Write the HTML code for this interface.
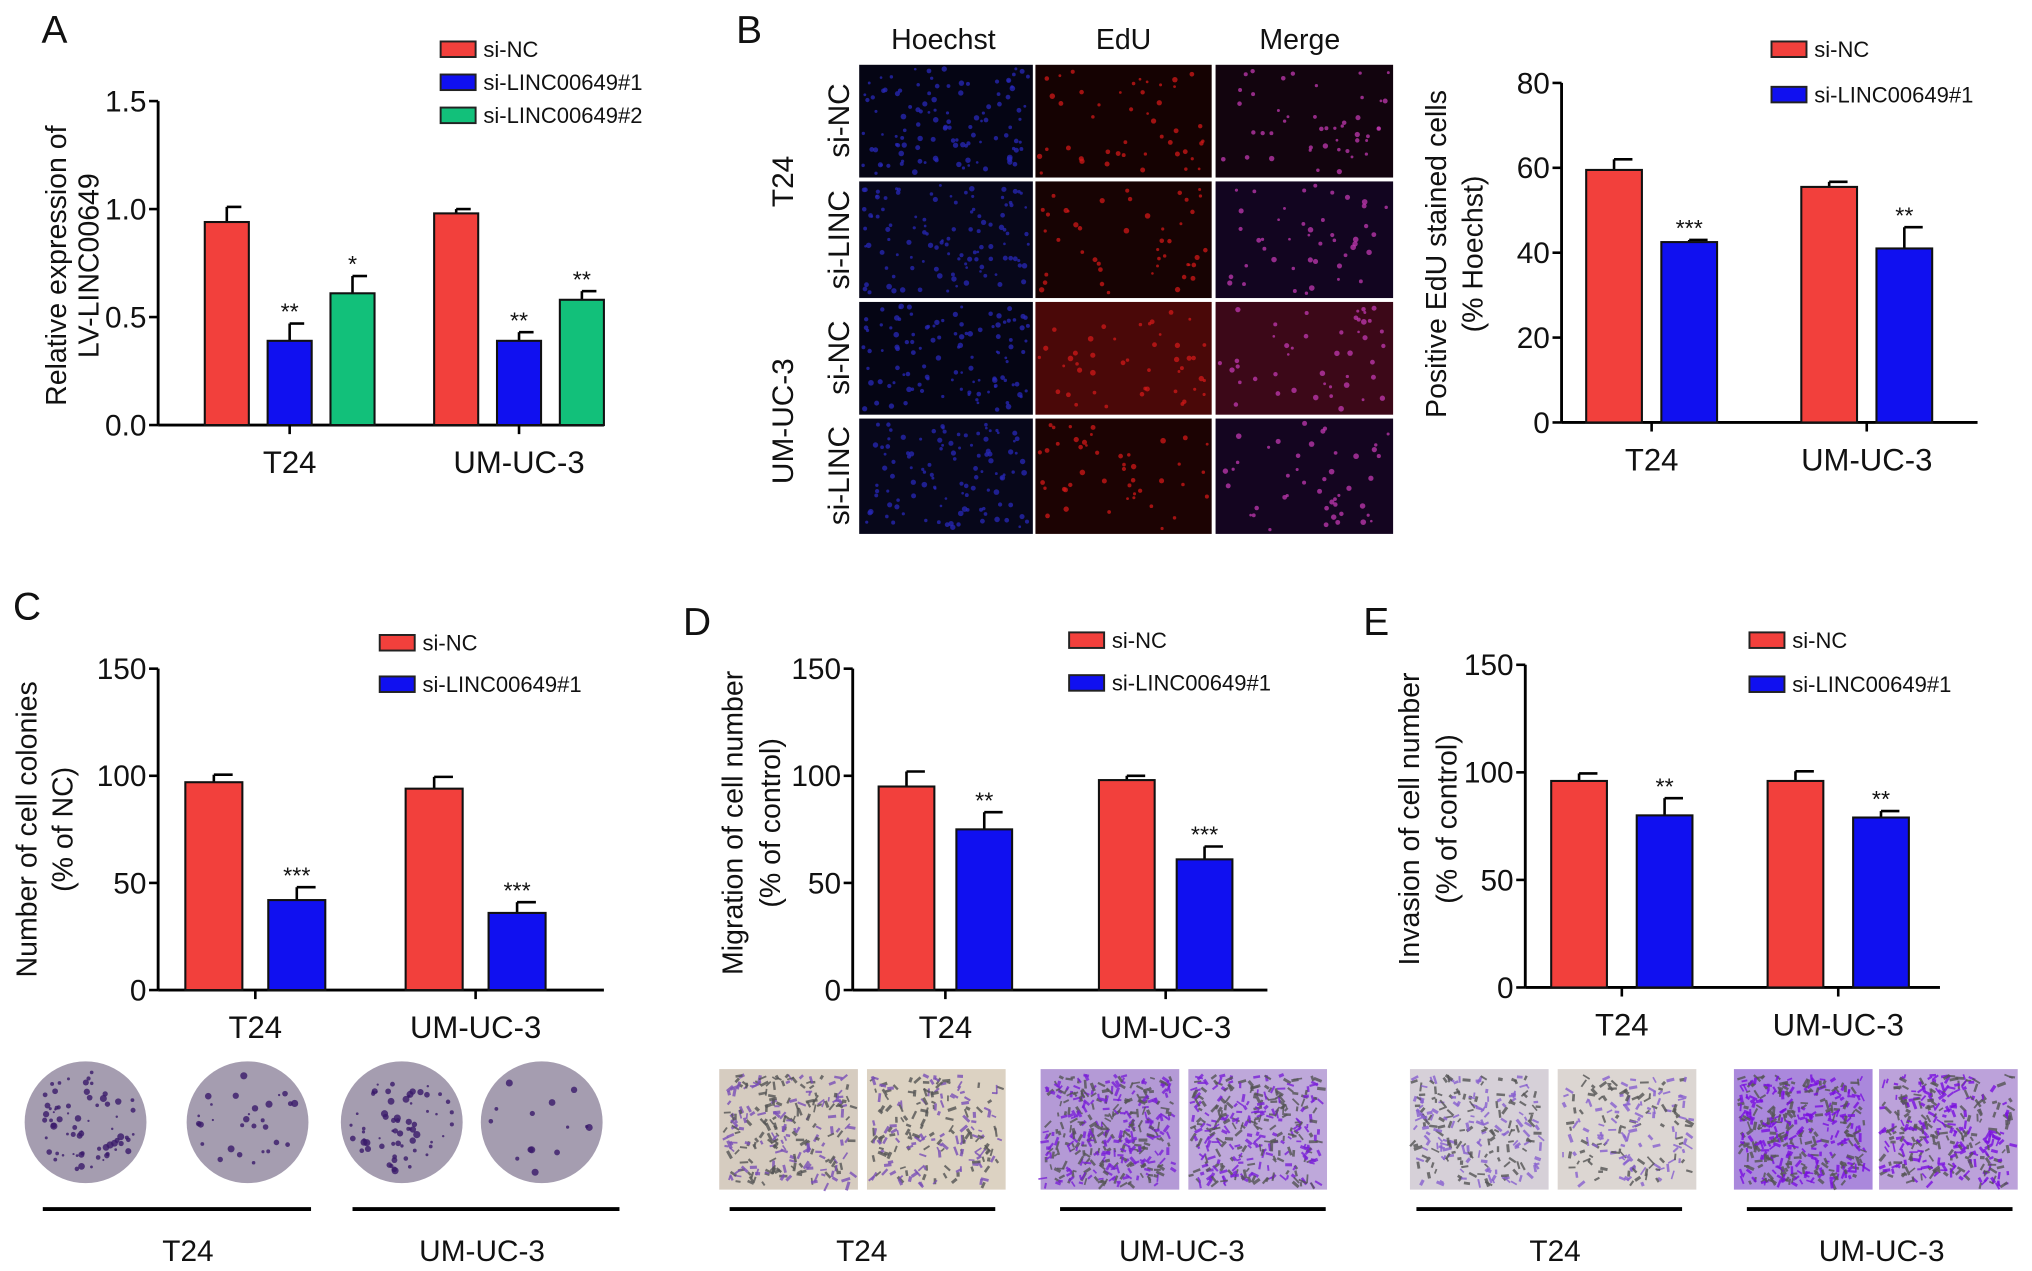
<!DOCTYPE html>
<html><head><meta charset="utf-8"><style>
html,body{margin:0;padding:0;background:#fff;}
svg{display:block;}
text{font-family:"Liberation Sans",Arial,sans-serif;fill:#111;}
</style></head><body>
<svg id="fig" width="2032" height="1271" viewBox="0 0 1568 980.8" xmlns="http://www.w3.org/2000/svg">
<g id="static"></g>
</svg>
<script>
// ---- Chart data ----
const categories = ["T24", "UM-UC-3"];
const aNames = ["si-NC", "si-LINC00649#1", "si-LINC00649#2"];
const aValues = [[0.94, 0.98], [0.39, 0.39], [0.61, 0.58]];
const aErrors = [[0.07, 0.02], [0.08, 0.04], [0.08, 0.04]];
const aStars = [["", ""], ["**", "**"], ["*", "**"]];
const aTicks = ["0.0", "0.5", "1.0", "1.5"];
const twoNames = ["si-NC", "si-LINC00649#1"];
const bValues = [[59.5, 55.5], [42.5, 41]];
const bErrors = [[2.5, 1.2], [0.5, 5]];
const bStars = [["", ""], ["***", "**"]];
const bTicks = ["0", "20", "40", "60", "80"];
const cValues = [[97, 94], [42, 36]];
const cErrors = [[3.5, 5.5], [6, 5]];
const cStars = [["", ""], ["***", "***"]];
const pctTicks = ["0", "50", "100", "150"];
const dValues = [[95, 98], [75, 61]];
const dErrors = [[7, 2], [8, 6]];
const dStars = [["", ""], ["**", "***"]];
const eValues = [[96, 96], [80, 79]];
const eErrors = [[3.5, 4.5], [8, 3]];
const eStars = [["", ""], ["**", "**"]];

const NS = "http://www.w3.org/2000/svg";
const root = document.getElementById('static');
function mk(tag, attrs, parent, txt) {
  const e = document.createElementNS(NS, tag);
  for (const k in attrs) e.setAttribute(k, attrs[k]);
  if (txt !== undefined) e.textContent = txt;
  (parent || root).appendChild(e);
  return e;
}
const COLORS = ["#f2403c", "#1010f0", "#12c07a"];

function chart(cfg) {
  const g = mk('g', {});
  
  
  const tickVals = cfg.ticks.map(Number);
  const ymax = tickVals[tickVals.length - 1];
  const y = v => cfg.y0 - (v / ymax) * (cfg.y0 - cfg.yTop);
  const ax = mk('line', {x1: cfg.ax, y1: cfg.yTop, x2: cfg.ax, y2: cfg.y0, stroke: '#000', 'stroke-width': 2.2}, g);
  
  
  cfg.ticks.forEach((t, i) => {
    const yy = y(tickVals[i]);
    mk('line', {x1: cfg.ax - 7, y1: yy, x2: cfg.ax, y2: yy, stroke: '#000', 'stroke-width': 2}, g);
    const tl = mk('text', {x: cfg.ax - 9, y: yy + 8, 'text-anchor': 'end', 'font-size': 23}, g, t);
    
    
  });
  const xa = mk('line', {x1: cfg.ax, y1: cfg.y0, x2: cfg.xEnd, y2: cfg.y0, stroke: '#000', 'stroke-width': 2.2}, g);
  
  
  const nS = cfg.values.length;
  categories.forEach((c, ci) => {
    const gs = cfg.groupStart[ci];
    for (let s = 0; s < nS; s++) {
      const x0 = gs + s * cfg.step;
      const v = cfg.values[s][ci], e = cfg.errors[s][ci];
      const cx = x0 + cfg.bw / 2;
      mk('line', {x1: cx, y1: y(v), x2: cx, y2: y(v + e), stroke: '#000', 'stroke-width': 2}, g);
      mk('line', {x1: cx, y1: y(v + e), x2: cx + cfg.bw * 0.33, y2: y(v + e), stroke: '#000', 'stroke-width': 2}, g);
      const b = mk('rect', {x: x0, y: y(v), width: cfg.bw, height: cfg.y0 - y(v), fill: COLORS[s], stroke: '#111', 'stroke-width': 1.6}, g);
      
      
      const st = cfg.stars[s][ci];
      if (st) {
        const sl = mk('text', {x: cx, y: y(v + e) - 3, 'text-anchor': 'middle', 'font-size': 18}, g, st);
        
        
      }
    }
    const gcx = gs + ((nS - 1) * cfg.step + cfg.bw) / 2;
    mk('line', {x1: gcx, y1: cfg.y0, x2: gcx, y2: cfg.y0 + 7, stroke: '#000', 'stroke-width': 2}, g);
    const cl = mk('text', {x: gcx, y: cfg.y0 + 37, 'text-anchor': 'middle', 'font-size': 24}, g, c);
    
    
  });
  cfg.title.forEach((t, i) => {
    const tx = cfg.titleX[i];
    const tt = mk('text', {x: tx, y: cfg.titleY, 'text-anchor': 'middle', 'font-size': 22, transform: `rotate(-90 ${tx} ${cfg.titleY})`}, g, t);
    
    
  });
  cfg.names.forEach((n, i) => {
    const ly = cfg.legY + i * cfg.legStep;
    const sw = mk('rect', {x: cfg.legX, y: ly - 6, width: 27, height: 12, fill: COLORS[i], stroke: '#222', 'stroke-width': 1.5}, g);
    
    
    const lt = mk('text', {x: cfg.legX + 33, y: ly + 6, 'font-size': 17}, g, n);
    
    
  });
  const pl = mk('text', {x: cfg.letterX, y: cfg.letterY, 'font-size': 30}, g, cfg.letter);
  
  
}

chart({name:'panel-a-chart', letter:'A', letterX:32, letterY:33, ticks:aTicks, values:aValues, errors:aErrors, stars:aStars, names:aNames,
  ax:122, yTop:78, y0:328, xEnd:466, groupStart:[158,335], step:48.5, bw:34,
  title:["Relative expression of","LV-LINC00649"], titleX:[51,76], titleY:205, legX:340, legY:38, legStep:25.5});
chart({name:'panel-b-chart', letter:'B', letterX:568, letterY:33, ticks:bTicks, values:bValues, errors:bErrors, stars:bStars, names:twoNames,
  ax:1205, yTop:64, y0:326, xEnd:1526, groupStart:[1224,1390], step:58, bw:43,
  title:["Positive EdU stained cells","(% Hoechst)"], titleX:[1116,1144], titleY:196, legX:1367, legY:38, legStep:35});
chart({name:'panel-c-chart', letter:'C', letterX:10, letterY:478, ticks:pctTicks, values:cValues, errors:cErrors, stars:cStars, names:twoNames,
  ax:122, yTop:516, y0:764, xEnd:466, groupStart:[143,313], step:64, bw:44,
  title:["Number of cell colonies","(% of NC)"], titleX:[28,56], titleY:640, legX:293, legY:496, legStep:32});
chart({name:'panel-d-chart', letter:'D', letterX:527, letterY:490, ticks:pctTicks, values:dValues, errors:dErrors, stars:dStars, names:twoNames,
  ax:658, yTop:516, y0:764, xEnd:978, groupStart:[678,848], step:60, bw:43,
  title:["Migration of cell number","(% of control)"], titleX:[573,602], titleY:635, legX:825, legY:494, legStep:33});
chart({name:'panel-e-chart', letter:'E', letterX:1052, letterY:490, ticks:pctTicks, values:eValues, errors:eErrors, stars:eStars, names:twoNames,
  ax:1177, yTop:513, y0:762, xEnd:1497, groupStart:[1197,1364], step:66, bw:43,
  title:["Invasion of cell number","(% of control)"], titleX:[1095,1124], titleY:632, legX:1350, legY:494, legStep:34});

// ---- decorative images (pseudo-random texture, not data) ----
let seed = 7;
function rnd() { seed = (seed * 16807) % 2147483647; return seed / 2147483647; }

const cols = [[663,797],[799,935],[938,1075]];
const rows = [[50,137],[140,230],[233,320],[323,412]];
const bgC = [["#050514","#150202","#12040e"],["#07071a","#170303","#120520"],["#050514","#4a0808","#3c0818"],["#07071a","#1c0303","#140520"]];
const dotC = ["#2828b8","#d01818","#c038b0"];
const micro = mk('g', {});


rows.forEach((r, ri) => cols.forEach((c, ci) => {
  mk('rect', {x: c[0], y: r[0], width: c[1]-c[0], height: r[1]-r[0], fill: bgC[ri][ci]}, micro);
  const n = ci === 0 ? 110 : 45;
  for (let k = 0; k < n; k++) {
    mk('circle', {cx: c[0] + 3 + rnd()*(c[1]-c[0]-6), cy: r[0] + 3 + rnd()*(r[1]-r[0]-6), r: 1 + rnd()*1.2, fill: dotC[ci], opacity: 0.75}, micro);
  }
}));
[["Hoechst",728],["EdU",867],["Merge",1003]].forEach(h => {
  const t = mk('text', {x: h[1], y: 38, 'text-anchor': 'middle', 'font-size': 22}, micro, h[0]);
  
  
});
[["si-NC",655,93],["si-LINC",655,185],["si-NC",655,276],["si-LINC",655,367],["T24",612,140],["UM-UC-3",612,325]].forEach(h => {
  const t = mk('text', {x: h[1], y: h[2], 'text-anchor': 'middle', 'font-size': 23, transform: `rotate(-90 ${h[1]} ${h[2]})`}, micro, h[0]);
  
  
});

const plates = mk('g', {});


[[66,70],[191,30],[310,65],[418,14]].forEach(p => {
  mk('ellipse', {cx: p[0], cy: 866, rx: 47, ry: 47, fill: '#a59db0'}, plates);
  for (let k = 0; k < p[1]; k++) {
    const a = rnd()*6.283, rr = Math.sqrt(rnd())*40;
    mk('circle', {cx: p[0] + Math.cos(a)*rr, cy: 866 + Math.sin(a)*rr, r: 0.8 + rnd()*2, fill: '#3a1a6a', opacity: 0.8}, plates);
  }
});

function transwell(name, boxes) {
  const g = mk('g', {});
  
  
  boxes.forEach(b => {
    mk('rect', {x: b[0], y: 825, width: 107, height: 93, fill: b[1]}, g);
    for (let k = 0; k < b[2]; k++) {
      const x = b[0] + 4 + rnd()*97, y = 829 + rnd()*84, a = rnd()*3.14;
      const L = 3 + rnd()*4;
      mk('line', {x1: x, y1: y, x2: x + Math.cos(a)*L, y2: y + Math.sin(a)*L, stroke: rnd() < 0.5 ? b[3] : '#555', 'stroke-width': 1.2 + rnd()*1.3, opacity: 0.8}, g);
    }
  });
}
transwell('migration-images', [[555,'#d6ccc0',260,'#7a50b8'],[669,'#dcd2c2',200,'#7a50b8'],[803,'#b49ad6',380,'#7a20d8'],[917,'#bea8da',340,'#7a20d8']]);
transwell('invasion-images', [[1088,'#d6d0d8',240,'#8860d0'],[1202,'#dcd6d2',180,'#8860d0'],[1338,'#aa88dc',400,'#7a10e0'],[1450,'#bca2da',340,'#7a10e0']]);

[[33,240,145,"T24"],[272,478,372,"UM-UC-3"],[563,768,665,"T24"],[818,1023,912,"UM-UC-3"],[1093,1298,1200,"T24"],[1348,1553,1452,"UM-UC-3"]].forEach(u => {
  const l = mk('line', {x1: u[0], y1: 933, x2: u[1], y2: 933, stroke: '#000', 'stroke-width': 3});
  
  
  const t = mk('text', {x: u[2], y: 973, 'text-anchor': 'middle', 'font-size': 23}, root, u[3]);
  
  
});
</script>
</body></html>
